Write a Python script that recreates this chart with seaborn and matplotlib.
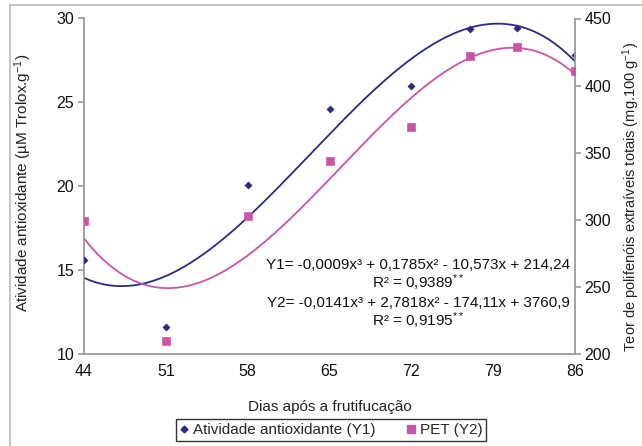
import numpy as np
import pandas as pd
import matplotlib
matplotlib.use("Agg")
import matplotlib.pyplot as plt
import seaborn as sns
from matplotlib.lines import Line2D
from matplotlib.patches import Rectangle

# ---- data ----
days = [44, 51, 58, 65, 72, 77, 81, 86]
antiox_y1 = [15.6, 11.6, 20.1, 24.6, 26.0, 29.35, 29.45, 27.8]
pet_y2 = [299, 210, 303, 344, 369, 422, 429, 411]
x_ticks = [44, 51, 58, 65, 72, 79, 86]
y1_ticks = [10, 15, 20, 25, 30]
y2_ticks = [200, 250, 300, 350, 400, 450]

eq1 = "Y1= -0,0009x³ + 0,1785x² - 10,573x + 214,24"
r1 = r"R² = 0,9389$^{**}$"
eq2 = "Y2= -0,0141x³ + 2,7818x² - 174,11x + 3760,9"
r2 = r"R² = 0,9195$^{**}$"

sns.set_style("white")
plt.rcParams["font.family"] = ["Liberation Sans", "DejaVu Sans"]
plt.rcParams["mathtext.fontset"] = "custom"
plt.rcParams["mathtext.rm"] = "Liberation Sans"
plt.rcParams["mathtext.it"] = "Liberation Sans:italic"
plt.rcParams["mathtext.bf"] = "Liberation Sans:bold"

BLUE = "#2B2B84"
PINK = "#C855A8"
GRAY = "#9A9A9A"

df = pd.DataFrame({"dia": days, "y1": antiox_y1, "y2": pet_y2})

# cubic trend lines fitted to the data
xs = np.linspace(min(days), max(days), 300)
fit1 = np.polyval(np.polyfit(days, antiox_y1, 3), xs)
fit2 = np.polyval(np.polyfit(days, pet_y2, 3), xs)
fit_df = pd.DataFrame({"x": xs, "f1": fit1, "f2": fit2})

W, H = 642, 446
L, R, T, B = 84, 575, 18.5, 354
fig = plt.figure(figsize=(W / 100, H / 100), dpi=100)
ax = fig.add_axes([L / W, 1 - B / H, (R - L) / W, (B - T) / H])
ax2 = ax.twinx()

sns.lineplot(data=fit_df, x="x", y="f1", ax=ax, color=BLUE, lw=1.3)
sns.scatterplot(data=df, x="dia", y="y1", ax=ax, marker="D", s=14, color=BLUE,
                edgecolor=BLUE, zorder=5)
sns.lineplot(data=fit_df, x="x", y="f2", ax=ax2, color=PINK, lw=1.3)
sns.scatterplot(data=df, x="dia", y="y2", ax=ax2, marker="s", s=34, color=PINK,
                edgecolor=PINK, zorder=5)

ax.set_xlim(44, 86)
ax.set_ylim(10, 30)
ax2.set_ylim(200, 450)
ax.set_xticks(x_ticks)
ax.set_yticks(y1_ticks)
ax2.set_yticks(y2_ticks)

for a in (ax, ax2):
    for s in a.spines.values():
        s.set_color(GRAY)
        s.set_linewidth(1.3)
    a.spines["top"].set_visible(False)
    a.tick_params(axis="both", colors=GRAY, labelcolor="#111111", labelsize=11.5,
                  length=4, width=1.2, direction="out", pad=3)
ax.spines["right"].set_visible(False)
ax2.spines["left"].set_visible(False)
ax2.spines["bottom"].set_visible(False)

ax.set_xlabel("Dias após a frutifucação", fontsize=11, color="#222222")
ax.xaxis.set_label_coords(0.5, -(400 - B) / (B - T))
ax.set_ylabel(r"Atividade antioxidante (µM Trolox.g$^{-1}$)", fontsize=11,
              color="#222222")
ax.yaxis.set_label_coords(-(L - 34) / (R - L), (B - 183) / (B - T))
ax2.set_ylabel(r"Teor de polifenóis extraíveis totais (mg.100 g$^{-1}$)", fontsize=10.5,
               color="#222222", rotation=90)
ax2.yaxis.set_label_coords((620 - L) / (R - L), (B - 197) / (B - T))

# equations
tk = dict(fontsize=11, color="#111111", transform=fig.transFigure, va="center")
t1 = fig.text(570 / W, 1 - 265 / H, eq1, ha="right", **tk)
t3 = fig.text(570 / W, 1 - 303 / H, eq2, ha="right", **tk)
fig.canvas.draw()
rend = fig.canvas.get_renderer()
bb1 = t1.get_window_extent(rend)
bb3 = t3.get_window_extent(rend)
fig.text((bb1.x0 + bb1.x1) / 2 / W, 1 - 283 / H, r1, ha="center", **tk)
fig.text((bb3.x0 + bb3.x1) / 2 / W, 1 - 321 / H, r2, ha="center", **tk)

# legend
handles = [
    Line2D([], [], marker="D", ls="none", color=BLUE, markersize=3.5,
           label="Atividade antioxidante (Y1)"),
    Line2D([], [], marker="s", ls="none", color=PINK, markersize=5.5, label="PET (Y2)"),
]
leg = fig.legend(handles=handles, ncol=2, loc="center",
                 bbox_to_anchor=(331 / W, 1 - 430 / H), frameon=True,
                 fancybox=False, fontsize=11, handlelength=0.6, handletextpad=0.3,
                 columnspacing=2.0, borderpad=0.25, borderaxespad=0)
leg.get_frame().set_edgecolor("black")
leg.get_frame().set_linewidth(1.0)

# outer chart frame (partially cropped in reference)
fig.patches.append(Rectangle((10 / W, -0.1), 1.2, 1 - 5 / H + 0.1,
                             transform=fig.transFigure, fill=False,
                             edgecolor="#BBBBBB", lw=1.2))

fig.savefig("out.png", dpi=100)
